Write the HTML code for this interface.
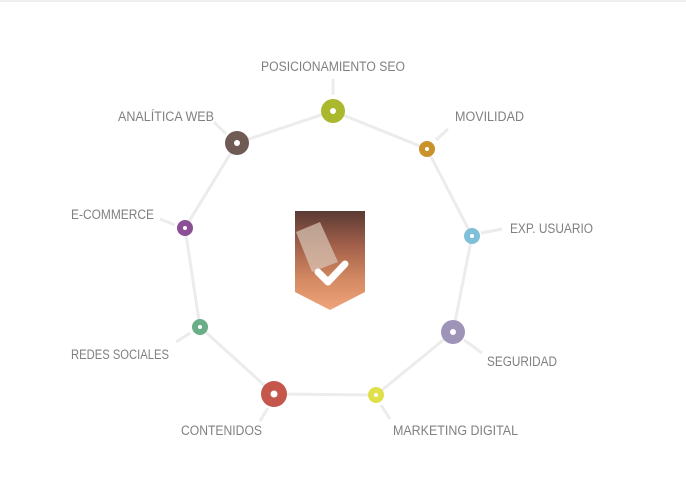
<!DOCTYPE html>
<html><head><meta charset="utf-8"><style>
html,body{margin:0;padding:0;background:#fff;}
svg{display:block}
text{font-family:"Liberation Sans",sans-serif;font-size:13.5px;fill:#808080;}
</style></head><body>
<svg width="686" height="488" viewBox="0 0 686 488">
<defs>
<linearGradient id="ph" x1="0" y1="0" x2="0" y2="1">
<stop offset="0" stop-color="#5a3a35"/><stop offset="0.35" stop-color="#a3604a"/><stop offset="0.7" stop-color="#d48a62"/><stop offset="1" stop-color="#f0a47a"/>
</linearGradient>
</defs>
<rect x="0" y="0" width="686" height="2" fill="#eee"/>
<g stroke="#ececec" stroke-width="3" fill="none">
<polygon points="333,111 427,149 472,236 453,332 376,395 274,394 200,327 185,228 237,143"/>
<line x1="333" y1="79" x2="333" y2="95"/>
<line x1="436" y1="140" x2="448" y2="129"/>
<line x1="481" y1="233" x2="502" y2="229"/>
<line x1="464" y1="340" x2="482" y2="353"/>
<line x1="381" y1="405" x2="390" y2="419"/>
<line x1="268" y1="408" x2="260" y2="421"/>
<line x1="190" y1="333" x2="176" y2="342"/>
<line x1="175" y1="225" x2="160" y2="219"/>
<line x1="226" y1="134" x2="214" y2="122"/>
</g>
<g>
<circle cx="333" cy="111" r="12" fill="#a9b82c"/><circle cx="333" cy="111" r="3" fill="#fff"/>
<circle cx="427" cy="149" r="8" fill="#c9922a"/><circle cx="427" cy="149" r="2" fill="#fff"/>
<circle cx="472" cy="236" r="8" fill="#7fc0d8"/><circle cx="472" cy="236" r="2" fill="#fff"/>
<circle cx="453" cy="332" r="12" fill="#9e94b8"/><circle cx="453" cy="332" r="3" fill="#fff"/>
<circle cx="376" cy="395" r="8" fill="#dfe04a"/><circle cx="376" cy="395" r="2" fill="#fff"/>
<circle cx="274" cy="394" r="13" fill="#c4564c"/><circle cx="274" cy="394" r="3.5" fill="#fff"/>
<circle cx="200" cy="327" r="8" fill="#6aae88"/><circle cx="200" cy="327" r="2" fill="#fff"/>
<circle cx="185" cy="228" r="8" fill="#8a4f94"/><circle cx="185" cy="228" r="2" fill="#fff"/>
<circle cx="237" cy="143" r="12" fill="#6f5a54"/><circle cx="237" cy="143" r="3" fill="#fff"/>
</g>
<polygon points="295,211 365,211 365,292 330,310 295,292" fill="url(#ph)"/>
<polygon points="296,232 320,222 338,262 312,272" fill="#d9c7b8" opacity="0.7"/>
<path d="M318,272 L328,282 L345,264" stroke="#fff" stroke-width="7" fill="none" stroke-linecap="round" stroke-linejoin="round"/>
<text x="261" y="71" textLength="144" lengthAdjust="spacingAndGlyphs">POSICIONAMIENTO SEO</text>
<text x="455" y="121" textLength="69" lengthAdjust="spacingAndGlyphs">MOVILIDAD</text>
<text x="510" y="233" textLength="83" lengthAdjust="spacingAndGlyphs">EXP. USUARIO</text>
<text x="487" y="366" textLength="70" lengthAdjust="spacingAndGlyphs">SEGURIDAD</text>
<text x="393" y="435" textLength="125" lengthAdjust="spacingAndGlyphs">MARKETING DIGITAL</text>
<text x="181" y="435" textLength="81" lengthAdjust="spacingAndGlyphs">CONTENIDOS</text>
<text x="71" y="359" textLength="98" lengthAdjust="spacingAndGlyphs">REDES SOCIALES</text>
<text x="71" y="219" textLength="83" lengthAdjust="spacingAndGlyphs">E-COMMERCE</text>
<text x="118" y="121" textLength="96" lengthAdjust="spacingAndGlyphs">ANALÍTICA WEB</text>
</svg>
</body></html>
